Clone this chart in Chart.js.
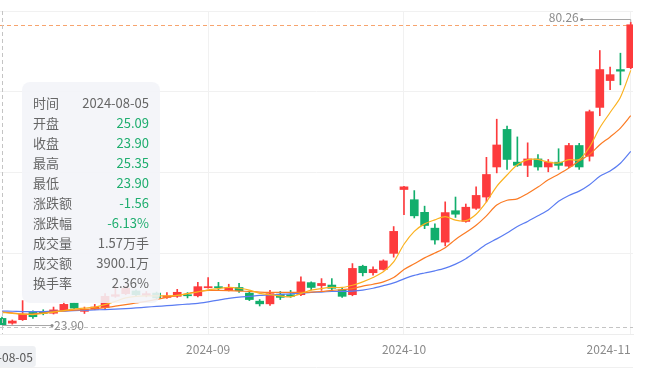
<!DOCTYPE html>
<html>
<head>
<meta charset="utf-8">
<script src="https://cdn.jsdelivr.net/npm/chart.js@4.4.1/dist/chart.umd.min.js"></script>
<style>
  html, body { margin: 0; padding: 0; background: #ffffff; }
  #wrap { position: relative; width: 645px; height: 381px; overflow: hidden; }
  #c { position: absolute; left: 0; top: 0; }
  #tip {
    position: absolute; left: 22px; top: 82px; width: 138px; height: 221px;
    box-sizing: border-box; padding: 11px 11px 0 11px;
    background: rgba(243, 244, 248, 0.88); border-radius: 8px;
    font-family: "Noto Sans CJK SC", "Noto Sans", sans-serif; font-size: 13px;
    color: #666;
  }
  #tip .row { display: flex; justify-content: space-between; height: 20px; line-height: 20px; white-space: nowrap; }
</style>
</head>
<body>
<div id="wrap">
  <canvas id="c" width="645" height="381"></canvas>
  <div id="tip"></div>
</div>
<script>
// ---------------- data ----------------
const dates = [
  '2024-08-05','2024-08-06','2024-08-07','2024-08-08','2024-08-09','2024-08-12','2024-08-13','2024-08-14','2024-08-15','2024-08-16',
  '2024-08-19','2024-08-20','2024-08-21','2024-08-22','2024-08-23','2024-08-26','2024-08-27','2024-08-28','2024-08-29','2024-08-30',
  '2024-09-02','2024-09-03','2024-09-04','2024-09-05','2024-09-06','2024-09-09','2024-09-10','2024-09-11','2024-09-12','2024-09-13',
  '2024-09-18','2024-09-19','2024-09-20','2024-09-23','2024-09-24','2024-09-25','2024-09-26','2024-09-27','2024-09-30',
  '2024-10-08','2024-10-09','2024-10-10','2024-10-11','2024-10-14','2024-10-15','2024-10-16','2024-10-17','2024-10-18',
  '2024-10-21','2024-10-22','2024-10-23','2024-10-24','2024-10-25','2024-10-28','2024-10-29','2024-10-30','2024-10-31',
  '2024-11-01','2024-11-04','2024-11-05','2024-11-06','2024-11-07'
];
const openP = [25.09,24.20,24.85,26.20,26.30,26.05,26.60,28.00,26.40,26.80,
  27.10,29.20,29.70,30.20,29.40,29.80,29.00,29.20,29.50,29.30,
  30.80,31.00,30.30,30.85,29.80,28.30,27.80,29.60,29.50,29.50,
  31.75,31.20,31.30,30.40,29.50,34.80,33.60,34.20,37.20,
  49.10,47.20,44.85,41.90,39.30,45.15,43.15,45.60,47.70,
  53.30,60.30,54.20,53.60,54.80,53.30,54.20,53.45,57.30,
  55.30,64.40,69.40,71.45,71.80];
const closeP = [23.90,24.60,25.87,25.40,26.00,26.67,27.70,27.00,26.80,27.20,
  29.20,29.50,30.70,29.50,29.70,28.90,29.30,29.95,29.30,31.00,
  31.00,30.80,30.85,30.25,28.60,27.80,29.70,29.00,29.20,31.90,
  30.85,31.60,30.70,29.20,34.40,33.60,34.20,35.80,41.30,
  49.60,44.20,42.40,39.70,44.80,44.50,45.80,48.00,51.90,
  57.40,54.70,53.60,54.80,53.30,54.20,53.60,57.30,53.30,
  63.60,71.45,70.50,71.15,79.80];
const highP = [25.35,24.80,28.40,26.50,26.70,27.20,28.20,28.10,27.20,27.70,
  29.70,31.00,31.10,30.40,30.10,30.00,29.90,30.50,29.90,31.80,
  32.70,31.80,31.45,31.60,30.20,28.60,30.30,30.10,30.30,32.85,
  31.90,32.50,32.50,30.70,35.30,35.00,34.70,36.00,42.20,
  49.70,48.90,46.00,42.70,46.80,47.70,46.40,49.60,55.10,
  62.20,60.90,58.90,57.80,55.60,54.70,56.70,57.70,57.70,
  63.90,75.00,71.90,74.50,80.26];
const lowP = [23.90,24.00,24.70,25.10,25.75,25.90,26.50,26.90,26.00,26.70,
  26.90,29.00,29.50,29.30,29.10,28.70,28.80,29.00,28.90,29.10,
  30.70,30.40,30.20,29.95,28.40,27.40,27.50,28.60,29.00,29.30,
  30.40,30.30,30.10,29.00,29.30,33.00,33.15,34.10,36.50,
  44.40,43.80,41.80,38.90,38.60,43.90,43.00,45.40,46.80,
  52.20,52.85,53.40,51.50,52.70,52.40,52.85,53.15,52.85,
  54.40,62.85,67.70,68.60,71.60];
const ma5 = [26.2,26.0,25.9,25.8,26.0,26.27,26.55,26.8,27.0,27.18,
  27.64,28.27,28.9,29.18,29.27,29.27,29.3,29.36,29.7,30.0,
  30.4,30.64,30.85,30.7,30.36,29.76,29.5,29.27,29.1,29.7,
  30.36,30.64,30.85,30.85,31.27,31.9,32.7,33.76,35.6,
  38.9,41.3,42.7,43.45,44.05,43.4,43.3,44.5,46.8,
  49.7,51.8,53.7,54.67,54.7,54.2,54.05,54.67,54.67,
  57.0,60.6,63.45,66.3,71.3];
const ma10 = [26.27,26.1,25.9,25.9,26.1,26.36,26.5,26.64,26.73,26.9,
  27.1,27.36,27.64,27.95,28.27,28.64,29.0,29.36,29.73,30.1,
  30.3,30.3,30.27,30.18,30.1,30.0,29.95,29.95,29.95,29.95,
  30.0,30.1,30.3,30.45,30.64,31.1,31.45,31.9,32.7,
  34.2,35.27,36.36,37.27,38.27,39.8,41.1,42.45,44.2,
  46.2,47.1,47.36,48.36,49.55,50.9,51.95,53.1,54.45,
  55.6,57.45,58.9,60.55,62.85];
const ma20 = [26.45,26.42,26.36,26.36,26.36,26.4,26.45,26.55,26.6,26.67,
  26.73,26.8,26.9,27.04,27.18,27.33,27.45,27.6,27.76,27.9,
  28.18,28.5,28.8,29.04,29.2,29.36,29.45,29.58,29.67,29.8,
  29.95,30.0,30.1,30.13,30.18,30.36,30.7,31.18,31.7,
  32.45,33.1,33.55,33.95,34.45,35.2,36.2,37.55,38.9,
  39.9,41.0,42.2,43.15,44.2,45.3,46.9,48.0,48.8,
  50.0,51.55,52.55,54.0,56.2];
const xTickIndex = [20, 39, 61];
const xTickLabels = ['2024-09', '2024-10', '2024-11'];
const yGridValues = [22.18, 37.23, 52.27, 67.32, 82.36];
const hoverIndex = 0;
const prevClose = 25.46;
const volumeText = '1.57万手';
const amountText = '3900.1万';
const turnoverText = '2.36%';
const crosshairPrice = 23.45;

// ---------------- style ----------------
const RED = '#fd3b3d';
const GREEN = '#12ae6c';
const FONT = '"Noto Sans CJK SC", "Noto Sans", sans-serif';
const xMin = -0.194, xMax = 61.22;
const yMin = yGridValues[0], yMax = yGridValues[yGridValues.length - 1];

const candleColors = openP.map((o, i) => closeP[i] >= o ? RED : GREEN);

// ---------------- tooltip ----------------
(function buildTip() {
  const i = hoverIndex;
  const colorOf = v => v > prevClose ? RED : (v < prevClose ? '#1fae6f' : '#666');
  const chg = closeP[i] - prevClose;
  const pct = chg / prevClose * 100;
  const chgColor = chg > 0 ? RED : (chg < 0 ? '#1fae6f' : '#666');
  const rows = [
    ['时间', dates[i], '#666'],
    ['开盘', openP[i].toFixed(2), colorOf(openP[i])],
    ['收盘', closeP[i].toFixed(2), colorOf(closeP[i])],
    ['最高', highP[i].toFixed(2), colorOf(highP[i])],
    ['最低', lowP[i].toFixed(2), colorOf(lowP[i])],
    ['涨跌额', chg.toFixed(2), chgColor],
    ['涨跌幅', pct.toFixed(2) + '%', chgColor],
    ['成交量', volumeText, '#666'],
    ['成交额', amountText, '#666'],
    ['换手率', turnoverText, '#666']
  ];
  document.getElementById('tip').innerHTML = rows.map(r =>
    '<div class="row"><span>' + r[0] + '</span><span style="color:' + r[2] + '">' + r[1] + '</span></div>'
  ).join('');
})();

// ---------------- overlay plugin ----------------
const overlay = {
  id: 'overlay',
  beforeDatasetsDraw(chart) {
    const { ctx, chartArea: a, scales: { x, y } } = chart;
    const last = closeP.length - 1;
    const py = y.getPixelForValue(closeP[last]);
    ctx.save();
    ctx.strokeStyle = '#f7a46e';
    ctx.lineWidth = 1.2;
    ctx.setLineDash([4, 3]);
    ctx.beginPath();
    ctx.moveTo(a.left, Math.round(py) + 0.5);
    ctx.lineTo(x.getPixelForValue(last), Math.round(py) + 0.5);
    ctx.stroke();
    ctx.restore();
  },
  afterDatasetsDraw(chart) {
    const { ctx, chartArea: a, scales: { x, y } } = chart;
    ctx.save();
    // crosshair
    const cx = x.getPixelForValue(hoverIndex);
    const cy = y.getPixelForValue(crosshairPrice);
    ctx.strokeStyle = '#c4c4c4';
    ctx.lineWidth = 1;
    ctx.setLineDash([4, 3]);
    ctx.beginPath();
    ctx.moveTo(Math.round(cx) + 0.5, a.top);
    ctx.lineTo(Math.round(cx) + 0.5, a.bottom);
    ctx.moveTo(a.left, Math.round(cy) + 0.5);
    ctx.lineTo(a.right, Math.round(cy) + 0.5);
    ctx.stroke();
    ctx.setLineDash([]);

    // max / min markers
    let hi = 0, lo = 0;
    highP.forEach((v, i) => { if (v > highP[hi]) hi = i; });
    lowP.forEach((v, i) => { if (v < lowP[lo]) lo = i; });
    ctx.font = '12px ' + FONT;
    ctx.fillStyle = '#8c8c8c';
    ctx.strokeStyle = '#a8a8a8';
    ctx.lineWidth = 1;
    // max
    const hx = x.getPixelForValue(hi), hy = y.getPixelForValue(highP[hi]);
    const hly = Math.round(hy - 3) + 0.5;
    ctx.beginPath();
    ctx.moveTo(hx - 49, hly); ctx.lineTo(hx, hly); ctx.lineTo(hx, hy);
    ctx.stroke();
    ctx.beginPath(); ctx.arc(hx - 49, hly, 1.6, 0, Math.PI * 2); ctx.fill();
    ctx.textAlign = 'right'; ctx.textBaseline = 'middle';
    ctx.fillText(highP[hi].toFixed(2), hx - 52, hly - 2);
    // min
    const lx = x.getPixelForValue(lo), ly = Math.round(y.getPixelForValue(lowP[lo])) + 0.5;
    ctx.beginPath();
    ctx.moveTo(lx, ly); ctx.lineTo(lx + 50, ly);
    ctx.stroke();
    ctx.beginPath(); ctx.arc(lx + 50, ly, 1.6, 0, Math.PI * 2); ctx.fill();
    ctx.textAlign = 'left';
    ctx.fillText(lowP[lo].toFixed(2), lx + 52, ly);
    ctx.restore();
  },
  afterDraw(chart) {
    const { ctx, chartArea: a, scales: { x } } = chart;
    ctx.save();
    // bottom line of axis panel
    ctx.strokeStyle = '#f0f0f0';
    ctx.lineWidth = 1;
    ctx.beginPath();
    ctx.moveTo(0, 367.5); ctx.lineTo(a.right, 367.5);
    ctx.stroke();
    // crosshair date label
    const cx = x.getPixelForValue(hoverIndex);
    ctx.font = '12px ' + FONT;
    const txt = dates[hoverIndex];
    const w = ctx.measureText(txt).width;
    const bx = cx - w / 2 - 3, bw = w + 6, by = 346, bh = 21;
    ctx.fillStyle = '#eef0f3';
    ctx.beginPath();
    if (ctx.roundRect) ctx.roundRect(bx, by, bw, bh, 3); else ctx.rect(bx, by, bw, bh);
    ctx.fill();
    ctx.fillStyle = '#555';
    ctx.textAlign = 'center'; ctx.textBaseline = 'middle';
    ctx.fillText(txt, cx, 357);
    ctx.restore();
  }
};

// ---------------- chart ----------------
const pts = arr => arr.map((v, i) => ({ x: i, y: v }));
new Chart(document.getElementById('c'), {
  type: 'bar',
  data: {
    datasets: [
      { type: 'line', label: 'MA5', data: pts(ma5), borderColor: '#fbb220', borderWidth: 1.2, pointRadius: 0, tension: 0.3, order: 0 },
      { type: 'line', label: 'MA10', data: pts(ma10), borderColor: '#fb7b24', borderWidth: 1.2, pointRadius: 0, tension: 0.3, order: 0 },
      { type: 'line', label: 'MA20', data: pts(ma20), borderColor: '#5a7cf2', borderWidth: 1.2, pointRadius: 0, tension: 0.3, order: 0 },
      { label: 'body', data: openP.map((o, i) => ({ x: i, y: [o, closeP[i]] })), backgroundColor: candleColors, barThickness: 8, grouped: false, order: 1 },
      { label: 'wick', data: highP.map((h, i) => ({ x: i, y: [lowP[i], h] })), backgroundColor: candleColors, barThickness: 1, grouped: false, order: 2 }
    ]
  },
  options: {
    responsive: false,
    animation: false,
    events: [],
    layout: { padding: { left: 0, right: 12, top: 11, bottom: 16.6 } },
    plugins: { legend: { display: false }, tooltip: { enabled: false } },
    scales: {
      x: {
        type: 'linear', min: xMin, max: xMax, offset: false,
        afterBuildTicks: s => { s.ticks = [{ value: xMin }].concat(xTickIndex.map(v => ({ value: v }))); },
        afterFit: s => { s.paddingLeft = 0; s.paddingRight = 0; },
        ticks: {
          align: 'inner', autoSkip: false, maxRotation: 0, padding: 8, color: '#8a8a8a',
          font: { size: 12, family: FONT },
          callback: v => { const k = xTickIndex.indexOf(v); return k >= 0 ? xTickLabels[k] : ''; }
        },
        grid: { offset: false, drawTicks: false, color: c => (c.tick && c.tick.value === xMin) ? 'rgba(0,0,0,0)' : '#f1f1f1' },
        border: { color: '#ededed' }
      },
      y: {
        position: 'right', min: yMin, max: yMax,
        afterBuildTicks: s => { s.ticks = yGridValues.map(v => ({ value: v })); },
        ticks: { display: false },
        grid: { drawTicks: false, color: '#f1f1f1' },
        border: { display: false }
      }
    }
  },
  plugins: [overlay]
});
</script>
</body>
</html>
